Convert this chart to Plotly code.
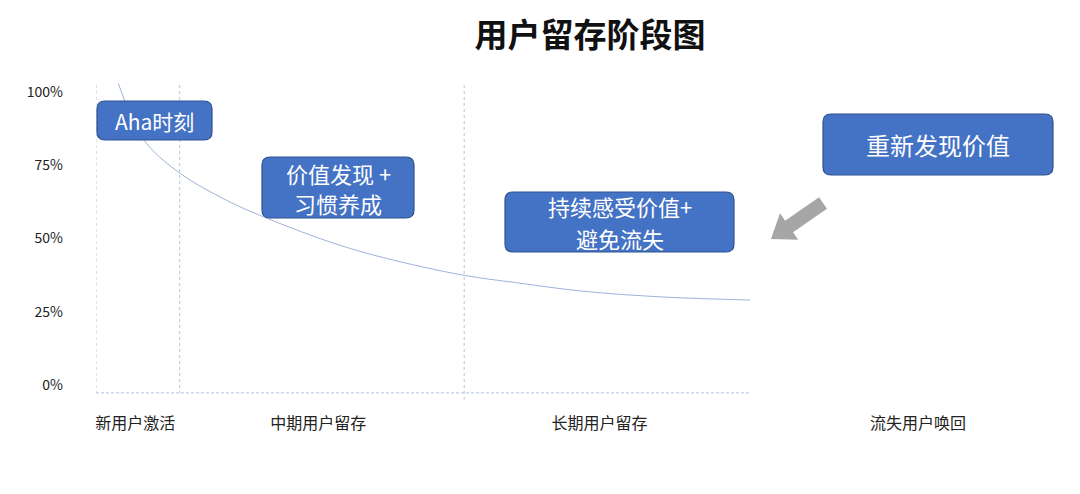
import math
import plotly.graph_objects as go

# retention curve (x: time in arbitrary units, y: retention %)
curve_x = [0.34, 0.72, 1.27, 2.0, 2.66, 3.62, 4.39, 5.61, 6.4, 7.45, 8.7, 10.0]
curve_y = [103, 84, 72.5, 63, 56.5, 48.5, 43.5, 37.5, 35, 32, 30, 29]

# stage boundaries and stage names
stage_bounds = [0, 1.28, 5.63]
stage_names = ["新用户激活", "中期用户留存", "长期用户留存", "流失用户唤回"]
stage_label_pos = [0.6, 3.4, 7.7, 12.57]

y_ticks = [0, 25, 50, 75, 100]
y_tick_text = ["0%", "25%", "50%", "75%", "100%"]

box_texts = [["Aha时刻"], ["价值发现 +", "习惯养成"], ["持续感受价值+", "避免流失"], ["重新发现价值"]]

W, H = 1080, 494
OFF = 8  # page body margin in the browser
ML, MR, MT = 96 - OFF, 0, 80 - OFF
MB = H - (400 - OFF)
PW, PH = W - ML - MR, H - MT - MB
FONT = "Noto Sans CJK SC, Noto Sans, sans-serif"


def px(x):
    return (x - OFF - ML) / PW


def py(y):
    return (H - MB - (y - OFF)) / PH


def rounded_rect(x0, y0, x1, y1, r):
    # pixel rectangle -> svg path in paper coordinates
    rx, ry = r / PW, r / PH
    a, b, c, d = px(x0), px(x1), py(y1), py(y0)  # left, right, bottom, top
    return (f"M{a+rx},{d} L{b-rx},{d} Q{b},{d} {b},{d-ry} L{b},{c+ry} Q{b},{c} {b-rx},{c} "
            f"L{a+rx},{c} Q{a},{c} {a},{c+ry} L{a},{d-ry} Q{a},{d} {a+rx},{d} Z")


fig = go.Figure()

fig.add_trace(go.Scatter(
    x=curve_x, y=curve_y, mode="lines",
    line=dict(color="#9db3db", width=1, shape="spline", smoothing=1.0),
    hoverinfo="skip", showlegend=False,
))

shapes = []
# vertical stage dividers
for i, b in enumerate(stage_bounds):
    shapes.append(dict(type="line", xref="x", yref="y", x0=b, x1=b,
                       y0=102.4, y1=-2.7 if i < 2 else -5,
                       line=dict(color="#b3c3df", width=1, dash="dot")))
# baseline
shapes.append(dict(type="line", xref="x", yref="y", x0=0, x1=10, y0=-2.7, y1=-2.7,
                   line=dict(color="#b3c3df", width=1, dash="3px,2px")))

# boxes (pixel layout): x0, y0, x1, y1, font size, line gap
boxes = [
    (97, 101, 212, 140, 21, 30),
    (262, 157, 414, 218, 22, 30),
    (505, 192, 734, 252, 22, 32),
    (823, 114, 1053, 175, 24, 30),
]
annotations = []
for (x0, y0, x1, y1, fs, gap), lines in zip(boxes, box_texts):
    shapes.append(dict(type="path", xref="paper", yref="paper", path=rounded_rect(x0, y0, x1, y1, 8),
                       fillcolor="#4472c4", line=dict(color="#2f528f", width=1.2)))
    cy = (y0 + y1) / 2 - (len(lines) - 1) * gap / 2
    for k, txt in enumerate(lines):
        annotations.append(dict(x=px((x0 + x1) / 2), y=py(cy + k * gap), xref="paper", yref="paper",
                                text=txt, showarrow=False, xanchor="center", yanchor="middle",
                                font=dict(family=FONT, size=fs, color="white")))

# grey block arrow
tail, tip = (823, 203), (771, 239)
dx, dy = tip[0] - tail[0], tip[1] - tail[1]
L = math.hypot(dx, dy)
ux, uy = dx / L, dy / L
nx, ny = -uy, ux
sw, hw, hl = 7, 16, 22
neck = (tip[0] - hl * ux, tip[1] - hl * uy)
pts = [
    (tail[0] + sw * nx, tail[1] + sw * ny),
    (neck[0] + sw * nx, neck[1] + sw * ny),
    (neck[0] + hw * nx, neck[1] + hw * ny),
    tip,
    (neck[0] - hw * nx, neck[1] - hw * ny),
    (neck[0] - sw * nx, neck[1] - sw * ny),
    (tail[0] - sw * nx, tail[1] - sw * ny),
]
path = "M" + " L".join(f"{px(a)},{py(b)}" for a, b in pts) + " Z"
shapes.append(dict(type="path", xref="paper", yref="paper", path=path,
                   fillcolor="#a6a6a6", line=dict(width=0)))

fig.update_layout(
    width=W, height=H,
    margin=dict(l=ML, r=MR, t=MT, b=MB),
    paper_bgcolor="white", plot_bgcolor="white",
    title=dict(text="<b>用户留存阶段图</b>", x=(590 - OFF) / W, xanchor="center",
               y=1 - (35 - OFF) / H, yanchor="middle",
               font=dict(family=FONT, size=33, color="#111111")),
    shapes=shapes,
    annotations=annotations,
    showlegend=False,
    xaxis=dict(range=[0, PW / 65.4], showgrid=False, zeroline=False, showline=False,
               tickvals=stage_label_pos, ticktext=stage_names, ticks="",
               ticklabelstandoff=12,
               tickfont=dict(family=FONT, size=16, color="#222222")),
    yaxis=dict(range=[(385 - 400) / 2.93, (385 - 80) / 2.93], showgrid=False,
               zeroline=False, showline=False,
               tickvals=y_ticks, ticktext=y_tick_text, ticks="",
               ticklabelstandoff=32,
               tickfont=dict(family=FONT, size=14, color="#222222")),
)

fig.write_html("out.html")
